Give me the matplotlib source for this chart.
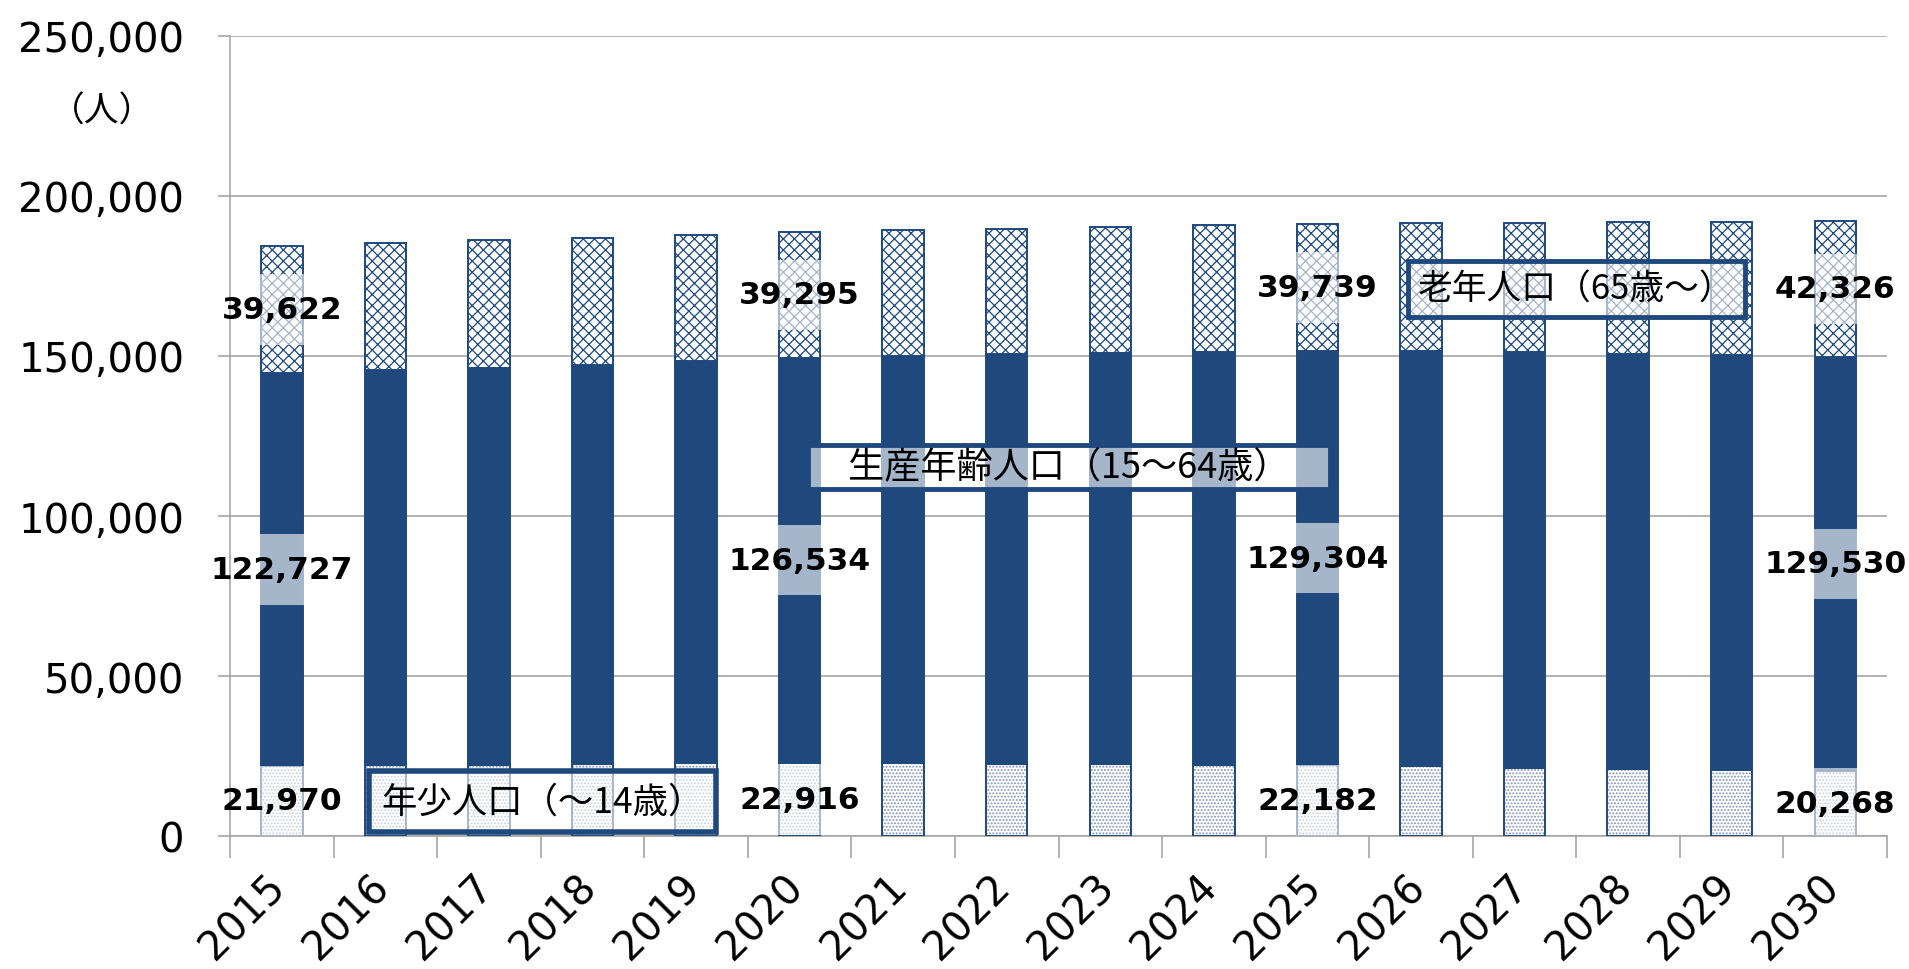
import matplotlib.pyplot as plt
import matplotlib.transforms as mtransforms
import numpy as np
from matplotlib.ticker import FuncFormatter, FixedLocator

plt.rcParams['font.family'] = ['DejaVu Sans', 'Noto Sans CJK JP']
plt.rcParams['hatch.linewidth'] = 0.9

# population by age group (people)
years = ['2015', '2016', '2017', '2018', '2019', '2020', '2021', '2022',
         '2023', '2024', '2025', '2026', '2027', '2028', '2029', '2030']
young = [21970, 22150, 22300, 22500, 22700, 22916, 22800, 22650,
         22500, 22350, 22182, 21800, 21400, 21000, 20600, 20268]
working = [122727, 123350, 124000, 124800, 125600, 126534, 127300, 127950,
           128500, 128950, 129304, 129600, 129700, 129700, 129700, 129530]
elderly = [39622, 39800, 39800, 39600, 39500, 39295, 39200, 39200,
           39300, 39500, 39739, 40000, 40500, 41100, 41700, 42326]
labeled_years = ['2015', '2020', '2025', '2030']

navy = '#1f497d'
grey = '#a6a6a6'

fig = plt.figure(figsize=(19.09, 9.70), dpi=100)
ax = fig.add_axes([0.1205, 0.137, 0.868, 0.825])
ax.set_axisbelow(True)

x = np.arange(len(years))
young = np.array(young)
working = np.array(working)
elderly = np.array(elderly)
w = 0.4

# young: dotted fill, then navy outline
ax.bar(x, young, w, color='white', edgecolor='#7d92b2', hatch='.....', linewidth=0, zorder=2)
ax.bar(x, young, w, fill=False, edgecolor=navy, linewidth=1.4, zorder=3)
# working age: solid navy
ax.bar(x, working, w, bottom=young, color=navy, edgecolor=navy, linewidth=1.4, zorder=2)
# elderly: cross hatch
ax.bar(x, elderly, w, bottom=young + working, color='white', edgecolor=navy,
       hatch='xxx', linewidth=1.4, zorder=2)

# value labels on selected years, with a faded white band behind them
band = 22000
for yr in labeled_years:
    i = years.index(yr)
    mids = [young[i] / 2, young[i] + working[i] / 2, young[i] + working[i] + elderly[i] / 2]
    vals = [young[i], working[i], elderly[i]]
    for m, v in zip(mids, vals):
        lo = max(m - band / 2, 0)
        ax.bar(i, m + band / 2 - lo, w + 0.02, bottom=lo, color='white', alpha=0.6,
               linewidth=0, zorder=4)
        ax.text(i, m, f'{v:,}', ha='center', va='center', fontsize=22.5,
                fontweight='bold', color='black', zorder=5)

# series name boxes
name_font = ['Noto Sans CJK JP', 'DejaVu Sans']
ax.text(12.5, 171000, '老年人口（65歳～）', ha='center', va='center', fontsize=25,
        family=name_font, zorder=6,
        bbox=dict(boxstyle='square,pad=0.3', fc=(1, 1, 1, 0.6), ec=navy, lw=3.5))
ax.text(7.6, 115300, '\u3000生産年齢人口（15～64歳）\u3000', ha='center', va='center',
        fontsize=26, family=name_font, zorder=6,
        bbox=dict(boxstyle='square,pad=0.12', fc=(1, 1, 1, 0.6), ec=navy, lw=3.5))
ax.text(2.52, 10800, '年少人口（～14歳）', ha='center', va='center', fontsize=25.5,
        family=name_font, zorder=6,
        bbox=dict(boxstyle='square,pad=0.35', fc=(1, 1, 1, 0.6), ec=navy, lw=4))

# axes styling
ax.set_xlim(-0.5, len(years) - 0.5)
ax.set_ylim(0, 250000)
ax.set_yticks(np.arange(0, 250001, 50000))
ax.yaxis.set_major_formatter(FuncFormatter(lambda v, p: f'{int(v):,}'))
ax.grid(axis='y', color=grey, linewidth=1.2)
ax.tick_params(axis='y', labelsize=29, length=9, color=grey, width=1.2, pad=24)

ax.set_xticks(x)
ax.set_xticklabels(years)
ax.xaxis.set_minor_locator(FixedLocator(np.arange(-0.5, len(years), 1.0)))
ax.tick_params(axis='x', which='major', length=0, labelsize=29, pad=22)
ax.tick_params(axis='x', which='minor', length=16, color=grey, width=1.2)
shift = mtransforms.ScaledTranslation(0.12, 0, fig.dpi_scale_trans)
for lbl in ax.get_xticklabels():
    lbl.set_rotation(45)
    lbl.set_ha('right')
    lbl.set_va('top')
    lbl.set_transform(lbl.get_transform() + shift)

for side in ['top', 'right']:
    ax.spines[side].set_visible(False)
for side in ['left', 'bottom']:
    ax.spines[side].set_color(grey)
    ax.spines[side].set_linewidth(1.2)

fig.text(102 / 1909, 1 - 112 / 970, '（人）', ha='center', va='center',
         fontsize=25, family=name_font)

fig.savefig('out.png', dpi=100)
